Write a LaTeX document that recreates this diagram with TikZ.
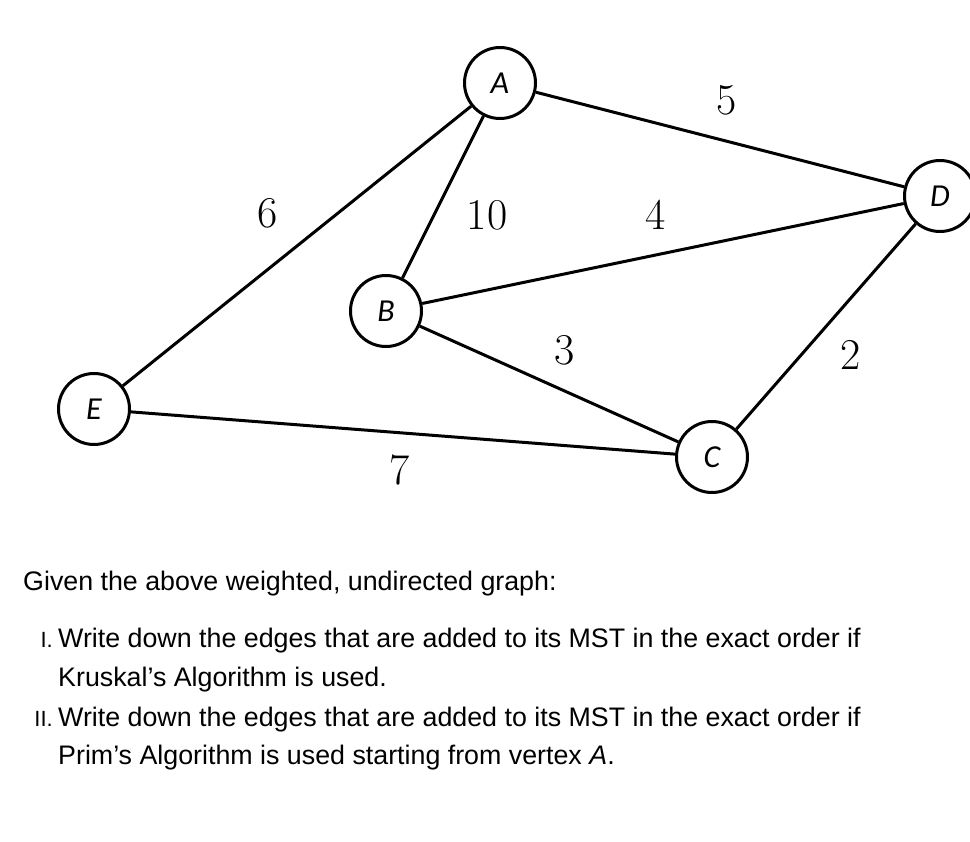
\documentclass[tikz,border=0pt]{standalone}
\usepackage{fontspec}
\newfontfamily\questionfont{Liberation Sans}
\newfontfamily\vertexfont{Carlito}
\usepackage{tikz}
\usetikzlibrary{positioning}

\begin{document}
\begin{tikzpicture}[x=1pt,y=-1pt]
  \tikzset{vertex/.style={draw, shape=circle, line width=3pt, minimum size=71pt, inner sep=0pt, fill=white,
      font=\vertexfont\itshape\fontsize{32}{32}\selectfont}}
  \tikzset{weight/.style={inner sep=0pt, font=\fontsize{44}{44}\selectfont}}
  \tikzset{edge/.style={line width=3pt}}
  \tikzset{question/.style={anchor=base west, inner sep=0pt, font=\questionfont\fontsize{26.8}{39}\selectfont}}
  \tikzset{itemno/.style={anchor=base east, inner sep=0pt, font=\questionfont\fontsize{22}{22}\selectfont}}
  \useasboundingbox (0,0) rectangle (970,842);
  % vertices
  \node[vertex] (A) at (500,83) {A};
  \node[vertex] (B) at (386,311) {B};
  \node[vertex] (C) at (712,457) {C};
  \node[vertex] (D) at (940,196) {D};
  \node[vertex] (E) at (94,409) {E};
  % edges
  \draw[edge] (A) -- (E);
  \draw[edge] (A) -- (B);
  \draw[edge] (A) -- (D);
  \draw[edge] (B) -- (D);
  \draw[edge] (B) -- (C);
  \draw[edge] (E) -- (C);
  \draw[edge] (C) -- (D);
  % weights
  \node[weight] (wAD) at (727,100) {5};
  \node[weight] (wAE) at (268,213) {6};
  \node[weight] (wAB) at (487,215) {10};
  \node[weight] (wBD) at (656,215) {4};
  \node[weight] (wBC) at (565,350) {3};
  \node[weight] (wCD) at (851,355) {2};
  \node[weight] (wEC) at (400,470) {7};
  % question
  \node[question] (given) at (23,590) {Given the above weighted, undirected graph:};
  \node[question] (q1) at (58,647) {Write down the edges that are added to its MST in the exact order if};
  \node[question] (q1b) at (58,686) {Kruskal’s Algorithm is used.};
  \node[question] (q2) at (58,726) {Write down the edges that are added to its MST in the exact order if};
  \node[question] (q2b) at (58,764) {Prim’s Algorithm is used starting from vertex \textit{A}.};
  \node[itemno] (n1) at (53,647) {I.};
  \node[itemno] (n2) at (53,726) {II.};
\end{tikzpicture}
\end{document}
